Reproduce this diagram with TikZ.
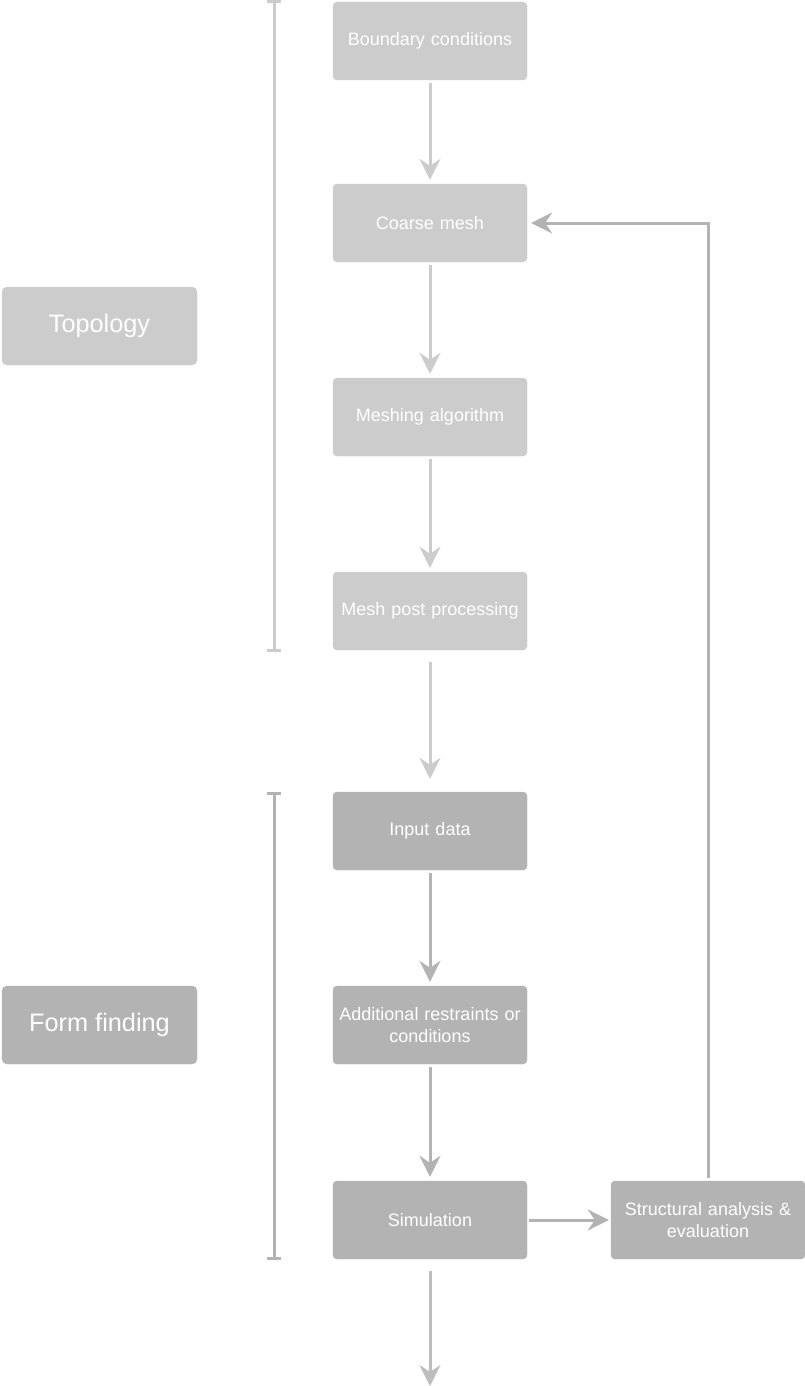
\documentclass[tikz,border=0pt]{standalone}
\usepackage{fontspec}
\setmainfont{Liberation Sans}
\usetikzlibrary{arrows.meta}
\definecolor{lightg}{HTML}{CCCCCC}
\definecolor{darkg}{HTML}{B3B3B3}
\definecolor{botg}{HTML}{BDBDBD}
\tikzset{
  stepbox/.style={draw=#1, fill=#1, rounded corners=4pt, minimum width=194pt, minimum height=78pt,
    text=white, font=\fontsize{18}{22}\selectfont, align=center, inner sep=2pt, text width=190pt},
  phasebox/.style={draw=#1, fill=#1, rounded corners=5pt, minimum width=195pt, minimum height=78pt,
    text=white, font=\fontsize{25.3}{28}\selectfont, align=center},
  flow/.style={draw=#1, line width=3pt, -{Stealth[length=21pt, width=21pt, inset=7pt]}},
  bracketline/.style={draw=#1, line width=3pt},
}
\begin{document}
\begin{tikzpicture}[x=1pt,y=-1pt]
\useasboundingbox (0,0) rectangle (805,1386);
% topology boxes
\node[stepbox=lightg] (bc) at (430,41) {Boundary conditions};
\node[stepbox=lightg] (cm) at (430,223) {Coarse mesh};
\node[stepbox=lightg] (ma) at (430,417) {Meshing algorithm};
\node[stepbox=lightg] (mp) at (430,611) {Mesh post processing};
% form finding boxes
\node[stepbox=darkg] (id) at (430,831) {Input data};
\node[stepbox=darkg] (ar) at (430,1025) {Additional restraints or\\conditions};
\node[stepbox=darkg] (sim) at (430,1220) {Simulation};
\node[stepbox=darkg] (sa) at (708,1220) {Structural analysis \&\\evaluation};
% phase labels
\node[phasebox=lightg] (topo) at (99.5,326) {Topology};
\node[phasebox=darkg] (ff) at (99.5,1025) {Form finding};
% brackets
\coordinate (t1) at (274,2);
\coordinate (t2) at (274,650);
\draw[bracketline=lightg] (t1) -- (t2);
\draw[bracketline=lightg] ([xshift=-7pt]t1) -- ([xshift=7pt]t1);
\draw[bracketline=lightg] ([xshift=-7pt]t2) -- ([xshift=7pt]t2);
\coordinate (f1) at (274,793);
\coordinate (f2) at (274,1258);
\draw[bracketline=darkg] (f1) -- (f2);
\draw[bracketline=darkg] ([xshift=-7pt]f1) -- ([xshift=7pt]f1);
\draw[bracketline=darkg] ([xshift=-7pt]f2) -- ([xshift=7pt]f2);
% arrows
\draw[flow=lightg, shorten <=3pt, shorten >=4pt] (bc) -- (cm);
\draw[flow=lightg, shorten <=3pt, shorten >=4pt] (cm) -- (ma);
\draw[flow=lightg, shorten <=3pt, shorten >=4pt] (ma) -- (mp);
\draw[flow=lightg, shorten <=12pt, shorten >=13pt] (mp) -- (id);
\draw[flow=darkg, shorten <=3pt, shorten >=4pt] (id) -- (ar);
\draw[flow=darkg, shorten <=3pt, shorten >=4pt] (ar) -- (sim);
\draw[flow=darkg, shorten <=2pt, shorten >=2pt] (sim) -- (sa);
\draw[flow=darkg, shorten <=3pt, shorten >=4pt] (sa.north) |- (cm.east);
\coordinate (endpt) at (430,1386);
\draw[flow=botg, shorten <=12pt] (sim.south) -- (endpt);
\end{tikzpicture}
\end{document}
